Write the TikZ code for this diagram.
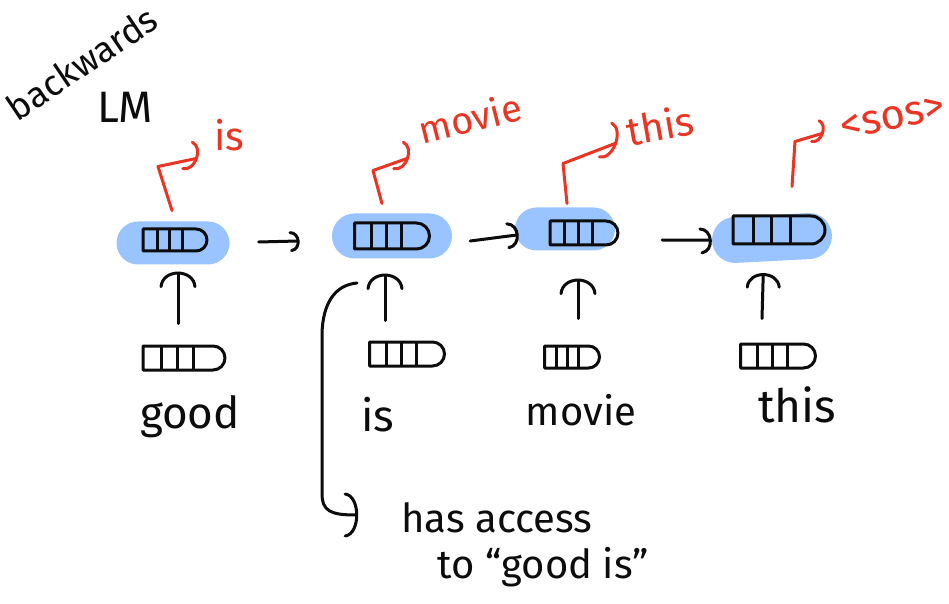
\documentclass[tikz,border=0pt]{standalone}
\usepackage{fontspec}
\setmainfont{Fira Sans}
\usetikzlibrary{shapes.misc,calc}
\definecolor{ink}{RGB}{12,12,12}
\definecolor{pen}{RGB}{236,52,34}
\definecolor{glow}{RGB}{153,196,255}
\tikzset{
  x=1pt, y=1pt,
  hand/.style={line width=3pt, line cap=round, line join=round, draw=ink},
  redhand/.style={hand, draw=pen},
  cell/.style={hand, rounded rectangle, rounded rectangle left arc=none,
    minimum width=#1, minimum height=24pt, inner sep=0pt,
    path picture={
      \foreach \f in {0.22,0.42,0.62}{
        \draw[hand] ($(path picture bounding box.south west)!\f!(path picture bounding box.south east)$)
          -- ($(path picture bounding box.north west)!\f!(path picture bounding box.north east)$);}}},
  blob/.style={fill=glow, draw=none, rounded rectangle, minimum width=#1,
    minimum height=43pt, inner sep=0pt},
  word/.style={text=ink, inner sep=0pt, font=\fontsize{#1}{#1}\selectfont},
  word/.default=42,
  redword/.style={text=pen, inner sep=0pt, font=\fontsize{#1}{#1}\selectfont},
  redword/.default=40,
}
% curved arrow head drawn by hand: colour, tip, direction, half-width, depth
\newcommand\drawhook[5]{%
  \draw[hand, draw=#1, shift={(#2)}, rotate=#3]
    (-#5,#4) .. controls (0.4*#5,0.9*#4) and (0.4*#5,-0.9*#4) .. (-#5,-#4);}
\begin{document}
\begin{tikzpicture}
\useasboundingbox[fill=white] (0,0) rectangle (949,603);

% highlighted hidden states
\node[blob=113pt] (b1) at (173,360) {};
\node[blob=120pt, minimum height=45pt] (b2) at (392,367) {};
\node[blob=100pt] (b3) at (565,374) {};
\node[blob=120pt, minimum height=46pt, rotate=3] (b4) at (772,365) {};

% hidden state vectors
\node[cell=64pt, minimum height=22pt] (h1) at (175,363) {};
\node[cell=75pt, minimum height=26pt] (h2) at (392,367) {};
\node[cell=68pt] (h3) at (584,370) {};
\node[cell=92pt, minimum height=28pt] (h4) at (779,373) {};

% input embeddings
\node[cell=82pt] (x1) at (184,245) {};
\node[cell=75pt] (x2) at (407,249) {};
\node[cell=55pt, minimum height=22pt] (x3) at (572,246) {};
\node[cell=75pt] (x4) at (778,247) {};

% input words
\node[word=44] (w1) at (190,186) {good};
\node[word=44] (w2) at (378,188) {is};
\node[word=40] (w3) at (581,193) {movie};
\node[word=46] (w4) at (797,198) {this};

% inputs feed the hidden states
\draw[hand] ($(x1.north)+(-6,21)$) -- ($(b1.south)+(5,-9)$) coordinate (u1);
\draw[hand] ($(x2.north)+(-22,20)$) -- ($(b2.south)+(-7,-17)$) coordinate (u2);
\draw[hand] ($(x3.north)+(6,26)$) -- ($(b3.south)+(13,-30)$) coordinate (u3);
\draw[hand] ($(x4.north)+(-16,24)$) -- ($(b4.south)+(-10,-14)$) coordinate (u4);
\drawhook{ink}{u1}{90}{17}{13}
\drawhook{ink}{u2}{90}{17}{13}
\drawhook{ink}{u3}{90}{17}{13}
\drawhook{ink}{u4}{90}{16}{12}

% recurrence
\draw[hand] ($(b1.east)+(29,1)$) -- ($(b2.west)+(-34,-5)$) coordinate (s1);
\draw[hand] ($(b2.east)+(18,-5)$) -- ($(b3.west)+(2,-6)$) coordinate (s2);
\draw[hand] ($(b3.east)+(47,-11)$) -- ($(b4.west)+(-2,1)$) coordinate (s3);
\drawhook{ink}{s1}{5}{9}{7}
\drawhook{ink}{s2}{5}{12}{9}
\drawhook{ink}{s3}{5}{12}{9}

% predictions
\draw[redhand] ($(h1.north)+(-3,17)$) -- ++(-14,44) -- ++(38,8) coordinate (r1);
\draw[redhand] ($(h2.north)+(-10,18)$) -- ++(-9,33) -- ++(34,12) coordinate (r2);
\draw[redhand] ($(h3.north)+(-17,16)$) -- ++(-4,40) -- ++(52,20) coordinate (r3);
\draw[redhand] ($(h4.north)+(13,28)$) -- ++(3,45) -- ++(27,8) coordinate (r4);
\drawhook{pen}{r1}{-20}{14}{9}
\drawhook{pen}{r2}{-20}{14}{9}
\drawhook{pen}{r3}{-20}{18}{10}
\drawhook{pen}{r4}{-20}{11}{7}

\node[redword=40] (p1) at (229,468) {is};
\node[redword=38, rotate=14] (p2) at (470,485) {movie};
\node[redword=40, rotate=10] (p3) at (660,478) {this};
\node[redword=42, rotate=12] (p4) at (893,485) {\textless sos\textgreater};

% title
\node[word=36, rotate=34] (t1) at (82,540) {backwards};
\node[word=44] (t2) at (125,496) {LM};

% note on the context of the second state
\node[word=40] (n1) at (497,85) {has access};
\node[word=40] (n2) at (543,36) {to “good is”};
\coordinate (brtop) at (357,320);
\draw[hand] (brtop) .. controls (335,318) and (323,300) .. (322,270) -- (322,110)
  .. controls (322,92) and (330,88) .. ($(n1.west)+(-45,3)$) coordinate (nb);
\drawhook{ink}{nb}{0}{21}{11}
\end{tikzpicture}
\end{document}
